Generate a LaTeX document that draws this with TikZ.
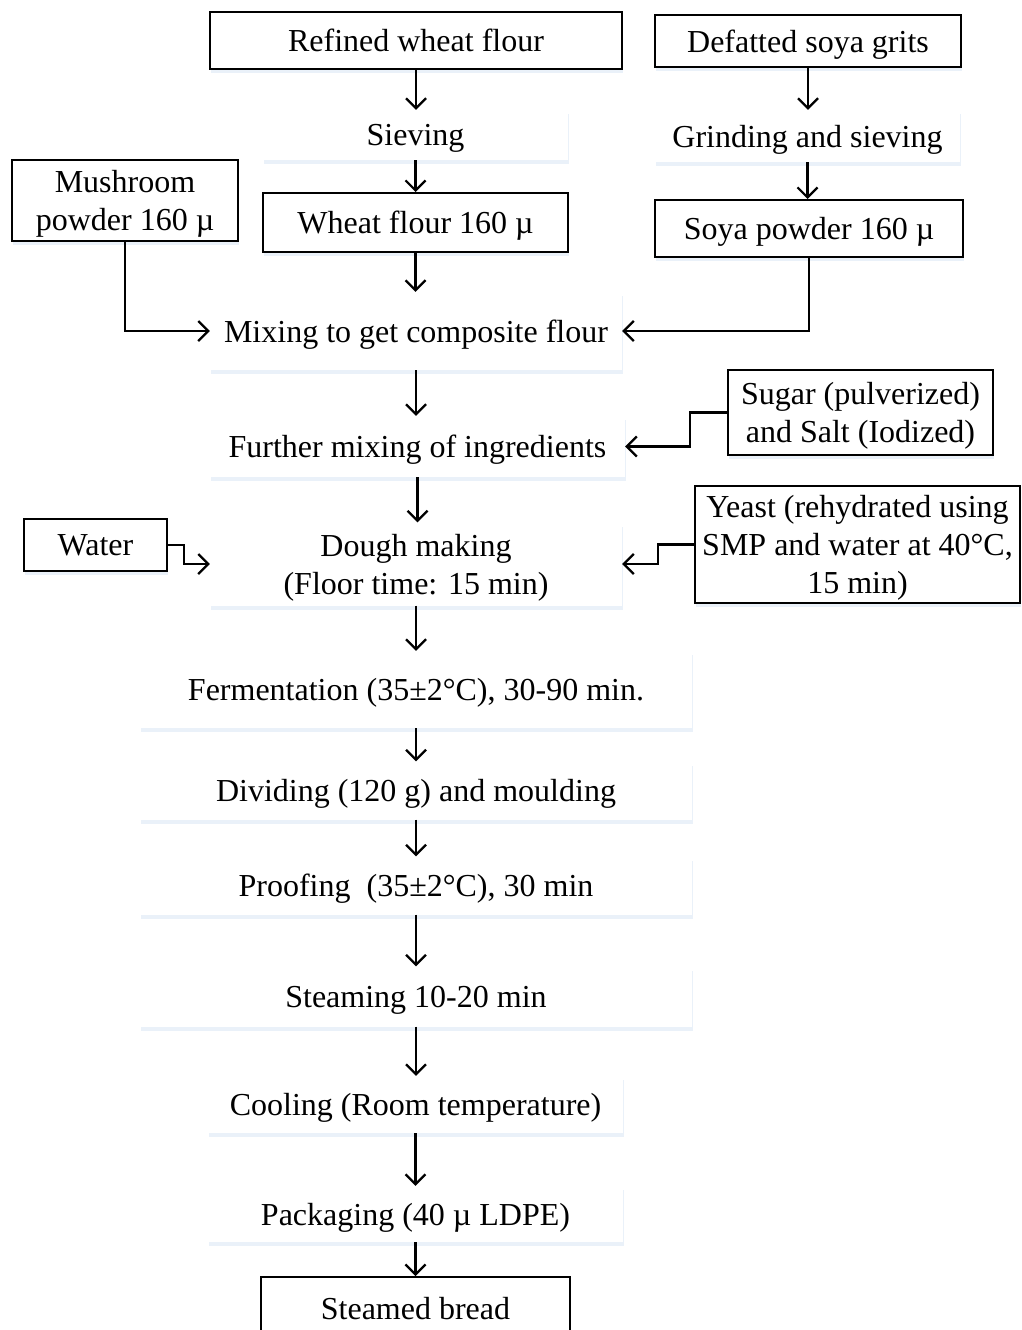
\documentclass[tikz,border=0pt]{standalone}
\usepackage{fontspec}
\setmainfont{Liberation Serif}
\usetikzlibrary{arrows.meta,shadows}
\definecolor{shade}{RGB}{214,227,243}

\tikzset{
	inbox/.style={draw, line width=2pt, fill=white, align=center, inner sep=2pt, text depth=0pt, drop shadow={shadow xshift=1pt, shadow yshift=-4pt, fill=shade, opacity=.5}},
	stepbox/.style={fill=white, align=center, inner sep=2pt, text depth=0pt, drop shadow={shadow xshift=1pt, shadow yshift=-4pt, fill=shade, opacity=.5}},
	flow/.style={line width=2.2pt, -{Straight Barb[length=10pt, width=20pt, line width=2.2pt]}}
}

\begin{document}
\begin{tikzpicture}[x=1pt, y=-1pt, font=\fontsize{32}{38}\selectfont]
		\useasboundingbox (0, 0) rectangle (1022, 1330);
		\node [inbox, line width=2.4pt, minimum width=412pt, minimum height=57pt] (rwf) at (416, 40.5) {Refined wheat flour};
		\node [inbox, minimum width=306pt, minimum height=52pt] (dsg) at (808, 41) {Defatted soya grits};
		\node [stepbox, minimum width=305pt, minimum height=50pt] (siev) at (415.5, 135) {Sieving};
		\node [stepbox, minimum width=305pt, minimum height=52pt] (grind) at (807.5, 136) {Grinding and sieving};
		\node [inbox, minimum width=226pt, minimum height=81pt] (mush) at (125, 200.5) {Mushroom\\powder 160 µ};
		\node [inbox, minimum width=305pt, minimum height=59pt] (wf) at (415.5, 222.5) {Wheat flour 160 µ};
		\node [inbox, minimum width=308pt, minimum height=57pt] (soya) at (809, 228.5) {Soya powder 160 µ};
		\node [stepbox, minimum width=412pt, minimum height=78pt] (mix) at (416, 331) {Mixing to get composite flour};
		\node [inbox, minimum width=265pt, minimum height=85pt] (sugar) at (860.5, 412.5) {Sugar (pulverized)\\and Salt (Iodized)};
		\node [stepbox, minimum width=415pt, minimum height=61pt] (further) at (417.5, 446.5) {Further mixing of ingredients};
		\node [inbox, minimum width=143pt, minimum height=52pt] (water) at (95.5, 545) {Water};
		\node [stepbox, minimum width=412pt, minimum height=83pt] (dough) at (416, 564) {Dough making\\(Floor time: 15 min)};
		\node [inbox, minimum width=325pt, minimum height=117pt] (yeast) at (857.5, 544.5) {Yeast (rehydrated using\\SMP and water at 40°C,\\15 min)};
		\node [stepbox, minimum width=552pt, minimum height=77pt] (ferm) at (416, 689.5) {Fermentation (35±2°C), 30-90 min.};
		\node [stepbox, minimum width=552pt, minimum height=58pt] (divid) at (416, 790.5) {Dividing (120 g) and moulding};
		\node [stepbox, minimum width=552pt, minimum height=58pt] (proof) at (416, 885.5) {Proofing\ \ (35±2°C), 30 min};
		\node [stepbox, minimum width=552pt, minimum height=60pt] (steam) at (416, 996.5) {Steaming 10-20 min};
		\node [stepbox, minimum width=415pt, minimum height=57pt] (cool) at (415.5, 1104.5) {Cooling (Room temperature)};
		\node [stepbox, minimum width=415pt, minimum height=56pt] (pack) at (415.5, 1214) {Packaging (40 µ LDPE)};
		\node [inbox, minimum width=309pt, minimum height=62pt] (bread) at (415.5, 1308) {Steamed bread};
		\draw [flow] (rwf.south) -- (rwf.south |- siev.north);
		\draw [flow] (siev.south) -- (siev.south |- wf.north);
		\draw [flow] (wf.south) -- (wf.south |- mix.north);
		\draw [flow] (dsg.south) -- (dsg.south |- grind.north);
		\draw [flow] (grind.south) -- (grind.south |- soya.north);
		\draw [flow] (mush.south) |- (mix.west);
		\draw [flow] (soya.south) |- (mix.east);
		\draw [flow] (mix.south) -- (mix.south |- further.north);
		\draw [flow] (sugar.west) -- ++(-37, 0) |- (further.east);
		\draw [flow] (further.south) -- (further.south |- dough.north);
		\draw [flow] (water.east) -- ++(16, 0) |- (dough.west);
		\draw [flow] (yeast.west) -- ++(-36, 0) |- (dough.east);
		\draw [flow] (dough.south) -- (dough.south |- ferm.north);
		\draw [flow] (ferm.south) -- (ferm.south |- divid.north);
		\draw [flow] (divid.south) -- (divid.south |- proof.north);
		\draw [flow] (proof.south) -- (proof.south |- steam.north);
		\draw [flow] (steam.south) -- (steam.south |- cool.north);
		\draw [flow] (cool.south) -- (cool.south |- pack.north);
		\draw [flow] (pack.south) -- (pack.south |- bread.north);
	\end{tikzpicture}
\end{document}
